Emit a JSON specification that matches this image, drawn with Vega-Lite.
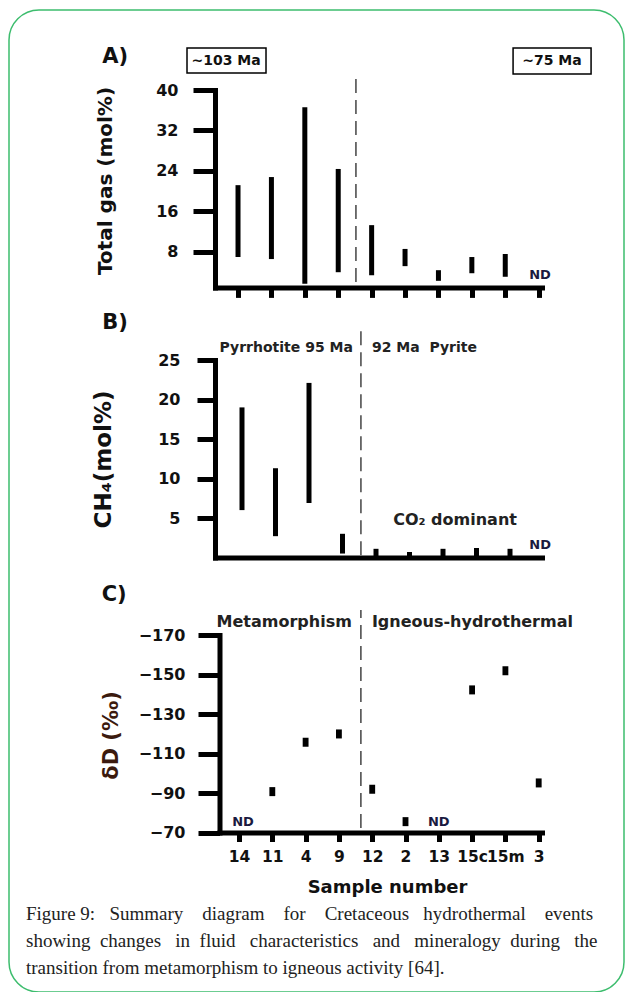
{
  "$schema": "https://vega.github.io/schema/vega-lite/v6.json",
  "width": 615,
  "height": 982,
  "autosize": {"type": "none"},
  "padding": {"left": 9, "top": 10, "right": 1, "bottom": 0},
  "background": "white",
  "config": {
    "view": {"stroke": "#3dbd6e", "strokeWidth": 1.5, "cornerRadius": 30, "fill": "white"},
    "axis": {
      "domainColor": "#000", "domainWidth": 5, "domainCap": "square",
      "tickColor": "#000", "tickWidth": 5, "grid": false,
      "labelFont": "DejaVu Sans", "labelFontWeight": "bold", "labelFontSize": 16, "labelColor": "#111",
      "titleFont": "DejaVu Sans", "titleFontWeight": "bold", "titleColor": "#111"
    },
    "text": {"font": "DejaVu Sans", "fontWeight": "bold", "color": "#222"}
  },
  "title": {
    "text": ["Figure 9: \u00a0\u00a0Summary \u00a0\u00a0\u00a0diagram \u00a0\u00a0\u00a0for \u00a0\u00a0\u00a0Cretaceous \u00a0\u00a0hydrothermal \u00a0\u00a0\u00a0events", "showing \u00a0changes \u00a0\u00a0in \u00a0fluid \u00a0\u00a0characteristics \u00a0\u00a0and \u00a0\u00a0mineralogy \u00a0during \u00a0\u00a0the", "transition from metamorphism to igneous activity [64]."],
    "orient": "bottom", "anchor": "start", "frame": "group", "offset": -87, "dx": 17,
    "font": "Liberation Serif", "fontSize": 19, "fontWeight": "normal", "lineHeight": 27, "color": "#222"
  },
  "datasets": {
    "gas": [
      {"sample": "14", "idx": 1, "low": 7.0, "high": 21.2},
      {"sample": "11", "idx": 2, "low": 6.6, "high": 22.8},
      {"sample": "4", "idx": 3, "low": 1.7, "high": 36.6},
      {"sample": "9", "idx": 4, "low": 4.0, "high": 24.4},
      {"sample": "12", "idx": 5, "low": 3.4, "high": 13.3},
      {"sample": "2", "idx": 6, "low": 5.2, "high": 8.6},
      {"sample": "13", "idx": 7, "low": 2.3, "high": 4.4},
      {"sample": "15c", "idx": 8, "low": 3.8, "high": 7.0},
      {"sample": "15m", "idx": 9, "low": 3.1, "high": 7.6}
    ],
    "ch4": [
      {"sample": "14", "idx": 1, "low": 6.0, "high": 19.0},
      {"sample": "11", "idx": 2, "low": 2.7, "high": 11.3},
      {"sample": "4", "idx": 3, "low": 6.9, "high": 22.1},
      {"sample": "9", "idx": 4, "low": 0.5, "high": 3.0},
      {"sample": "12", "idx": 5, "low": 0, "high": 1.1},
      {"sample": "2", "idx": 6, "low": 0, "high": 0.7},
      {"sample": "13", "idx": 7, "low": 0, "high": 1.1},
      {"sample": "15c", "idx": 8, "low": 0, "high": 1.2},
      {"sample": "15m", "idx": 9, "low": 0, "high": 1.1}
    ],
    "dD": [
      {"sample": "11", "idx": 2, "dD": -90.7},
      {"sample": "4", "idx": 3, "dD": -115.7},
      {"sample": "9", "idx": 4, "dD": -119.9},
      {"sample": "12", "idx": 5, "dD": -91.9},
      {"sample": "2", "idx": 6, "dD": -75.5},
      {"sample": "15c", "idx": 8, "dD": -142.2},
      {"sample": "15m", "idx": 9, "dD": -151.9},
      {"sample": "3", "idx": 10, "dD": -95.1}
    ]
  },
  "layer": [
    {
      "layer": [
        {
          "data": {"name": "gas"},
          "mark": {"type": "rule", "strokeWidth": 5, "strokeCap": "butt", "color": "#000"},
          "encoding": {
            "x": {"field": "idx", "type": "quantitative",
              "scale": {"domain": [0.311, 10.1], "range": [206, 533], "nice": false, "zero": false},
              "axis": {"orient": "bottom", "offset": -704.6, "values": [1,2,3,4,5,6,7,8,9,10], "tickSize": 10, "labels": false, "title": null}},
            "y": {"field": "low", "type": "quantitative",
              "scale": {"domain": [1, 40], "range": [277.4, 80], "nice": false, "zero": false},
              "axis": {"orient": "left", "offset": -206, "values": [8, 16, 24, 32, 40], "tickSize": 22, "labelPadding": 15,
                "title": "Total gas (mol%)", "titleFontSize": 20, "titleAngle": -90, "titleAlign": "center", "titleBaseline": "middle", "titleX": -109.5, "titleY": 170.5}},
            "y2": {"field": "high"}
          }
        },
        {
          "data": {"values": [{}]},
          "mark": {"type": "rule", "strokeWidth": 1.5, "strokeDash": [14, 7], "color": "#444"},
          "encoding": {"x": {"datum": 4.53, "type": "quantitative"}, "y": {"datum": 2.07, "type": "quantitative"}, "y2": {"datum": 43.4}}
        },
        {
          "data": {"values": [{}]},
          "mark": {"type": "rect", "fill": "white", "stroke": "#000", "strokeWidth": 1.5},
          "encoding": {"x": {"datum": -0.527, "type": "quantitative"}, "x2": {"datum": 1.838}, "y": {"datum": 43.35, "type": "quantitative"}, "y2": {"datum": 48.29}}
        },
        {
          "data": {"values": [{}]},
          "mark": {"type": "rect", "fill": "white", "stroke": "#000", "strokeWidth": 1.5},
          "encoding": {"x": {"datum": 9.234, "type": "quantitative"}, "x2": {"datum": 11.569}, "y": {"datum": 43.15, "type": "quantitative"}, "y2": {"datum": 48.29}}
        },
        {
          "data": {"values": [{}]},
          "mark": {"type": "text", "fontSize": 14, "align": "center", "baseline": "middle", "color": "#111"},
          "encoding": {"x": {"datum": 0.641, "type": "quantitative"}, "y": {"datum": 45.7, "type": "quantitative"}, "text": {"value": "~103 Ma"}}
        },
        {
          "data": {"values": [{}]},
          "mark": {"type": "text", "fontSize": 14, "align": "center", "baseline": "middle", "color": "#111"},
          "encoding": {"x": {"datum": 10.4, "type": "quantitative"}, "y": {"datum": 45.7, "type": "quantitative"}, "text": {"value": "~75 Ma"}}
        },
        {
          "data": {"values": [{}]},
          "mark": {"type": "text", "fontSize": 21, "align": "center", "baseline": "middle", "color": "#111"},
          "encoding": {"x": {"datum": -2.68, "type": "quantitative"}, "y": {"datum": 46.5, "type": "quantitative"}, "text": {"value": "A)"}}
        },
        {
          "data": {"values": [{}]},
          "mark": {"type": "text", "fontSize": 13, "align": "center", "baseline": "middle", "color": "#1a1a40"},
          "encoding": {"x": {"datum": 10.04, "type": "quantitative"}, "y": {"datum": 3.45, "type": "quantitative"}, "text": {"value": "ND"}}
        }
      ]
    },
    {
      "layer": [
        {
          "data": {"name": "ch4"},
          "mark": {"type": "rule", "strokeWidth": 5, "strokeCap": "butt", "color": "#000"},
          "encoding": {
            "x": {"field": "idx", "type": "quantitative",
              "scale": {"domain": [0.194, 9.955], "range": [206, 533], "nice": false, "zero": false},
              "axis": {"orient": "bottom", "offset": -434.5, "ticks": false, "labels": false, "title": null}},
            "y": {"field": "low", "type": "quantitative",
              "scale": {"domain": [0, 25], "range": [547.5, 350], "nice": false, "zero": false},
              "axis": {"orient": "left", "offset": -206, "values": [5, 10, 15, 20, 25], "tickSize": 18, "labelPadding": 17,
                "title": "CH₄(mol%)", "titleFontSize": 23, "titleAngle": -90, "titleAlign": "center", "titleBaseline": "middle", "titleX": -112, "titleY": 449}},
            "y2": {"field": "high"}
          }
        },
        {
          "data": {"values": [{}]},
          "mark": {"type": "rule", "strokeWidth": 1.5, "strokeDash": [14, 7], "color": "#444"},
          "encoding": {"x": {"datum": 4.55, "type": "quantitative"}, "y": {"datum": 0.3, "type": "quantitative"}, "y2": {"datum": 28.8}}
        },
        {
          "data": {"values": [{}]},
          "mark": {"type": "text", "fontSize": 21, "align": "center", "baseline": "middle", "color": "#111"},
          "encoding": {"x": {"datum": -2.79, "type": "quantitative"}, "y": {"datum": 29.7, "type": "quantitative"}, "text": {"value": "B)"}}
        },
        {
          "data": {"values": [{}]},
          "mark": {"type": "text", "fontSize": 14, "align": "right", "baseline": "middle"},
          "encoding": {"x": {"datum": 4.31, "type": "quantitative"}, "y": {"datum": 26.5, "type": "quantitative"}, "text": {"value": "Pyrrhotite 95 Ma"}}
        },
        {
          "data": {"values": [{}]},
          "mark": {"type": "text", "fontSize": 14, "align": "left", "baseline": "middle"},
          "encoding": {"x": {"datum": 4.88, "type": "quantitative"}, "y": {"datum": 26.5, "type": "quantitative"}, "text": {"value": "92 Ma \u00a0Pyrite"}}
        },
        {
          "data": {"values": [{}]},
          "mark": {"type": "text", "fontSize": 16, "align": "center", "baseline": "middle"},
          "encoding": {"x": {"datum": 7.36, "type": "quantitative"}, "y": {"datum": 4.75, "type": "quantitative"}, "text": {"value": "CO₂ dominant"}}
        },
        {
          "data": {"values": [{}]},
          "mark": {"type": "text", "fontSize": 13, "align": "center", "baseline": "middle", "color": "#1a1a40"},
          "encoding": {"x": {"datum": 9.9, "type": "quantitative"}, "y": {"datum": 1.6, "type": "quantitative"}, "text": {"value": "ND"}}
        }
      ]
    },
    {
      "layer": [
        {
          "data": {"name": "dD"},
          "mark": {"type": "point", "shape": "M-0.65,-1H0.65V1H-0.65Z", "size": 81, "filled": true, "opacity": 1, "color": "#000", "strokeWidth": 0},
          "encoding": {
            "x": {"field": "idx", "type": "quantitative",
              "scale": {"domain": [0.414, 10.099], "range": [210.5, 533], "nice": false, "zero": false},
              "axis": {"orient": "bottom", "offset": -159.5, "values": [1,2,3,4,5,6,7,8,9,10], "tickSize": 9, "labelPadding": 8, "labelFontSize": 15.5, "labelOverlap": false,
                "labelExpr": "['14','11','4','9','12','2','13','15c','15m','3'][datum.value - 1]",
                "title": "Sample number", "titleFontSize": 18, "titleAlign": "center", "titleBaseline": "middle", "titleX": 378, "titleY": 55}},
            "y": {"field": "dD", "type": "quantitative",
              "scale": {"domain": [-170, -70], "range": [625, 822.5], "nice": false, "zero": false},
              "axis": {"orient": "left", "offset": -210.5, "values": [-170, -150, -130, -110, -90, -70], "tickSize": 21.5, "labelPadding": 13,
                "title": "δD (‰)", "titleFontSize": 21, "titleColor": "#3b1a0e", "titleAngle": -90, "titleAlign": "center", "titleBaseline": "middle", "titleX": -108.5, "titleY": 725}}
          }
        },
        {
          "data": {"values": [{}]},
          "mark": {"type": "rule", "strokeWidth": 1.5, "strokeDash": [14, 7], "color": "#444"},
          "encoding": {"x": {"datum": 4.66, "type": "quantitative"}, "y": {"datum": -72.3, "type": "quantitative"}, "y2": {"datum": -182.7}}
        },
        {
          "data": {"values": [{}]},
          "mark": {"type": "text", "fontSize": 21, "align": "center", "baseline": "middle", "color": "#111"},
          "encoding": {"x": {"datum": -2.75, "type": "quantitative"}, "y": {"datum": -190.3, "type": "quantitative"}, "text": {"value": "C)"}}
        },
        {
          "data": {"values": [{}]},
          "mark": {"type": "text", "fontSize": 16, "align": "right", "baseline": "middle"},
          "encoding": {"x": {"datum": 4.39, "type": "quantitative"}, "y": {"datum": -176.6, "type": "quantitative"}, "text": {"value": "Metamorphism"}}
        },
        {
          "data": {"values": [{}]},
          "mark": {"type": "text", "fontSize": 16, "align": "left", "baseline": "middle"},
          "encoding": {"x": {"datum": 4.99, "type": "quantitative"}, "y": {"datum": -176.6, "type": "quantitative"}, "text": {"value": "Igneous-hydrothermal"}}
        },
        {
          "data": {"values": [{"lab": "ND", "pos": 1.12}, {"lab": "ND", "pos": 7.0}]},
          "mark": {"type": "text", "fontSize": 13, "align": "center", "baseline": "middle", "color": "#1a1a40"},
          "encoding": {"x": {"field": "pos", "type": "quantitative"}, "y": {"datum": -75.3, "type": "quantitative"}, "text": {"field": "lab"}}
        }
      ]
    }
  ],
  "resolve": {"scale": {"x": "independent", "y": "independent"}, "axis": {"x": "independent", "y": "independent"}}
}
